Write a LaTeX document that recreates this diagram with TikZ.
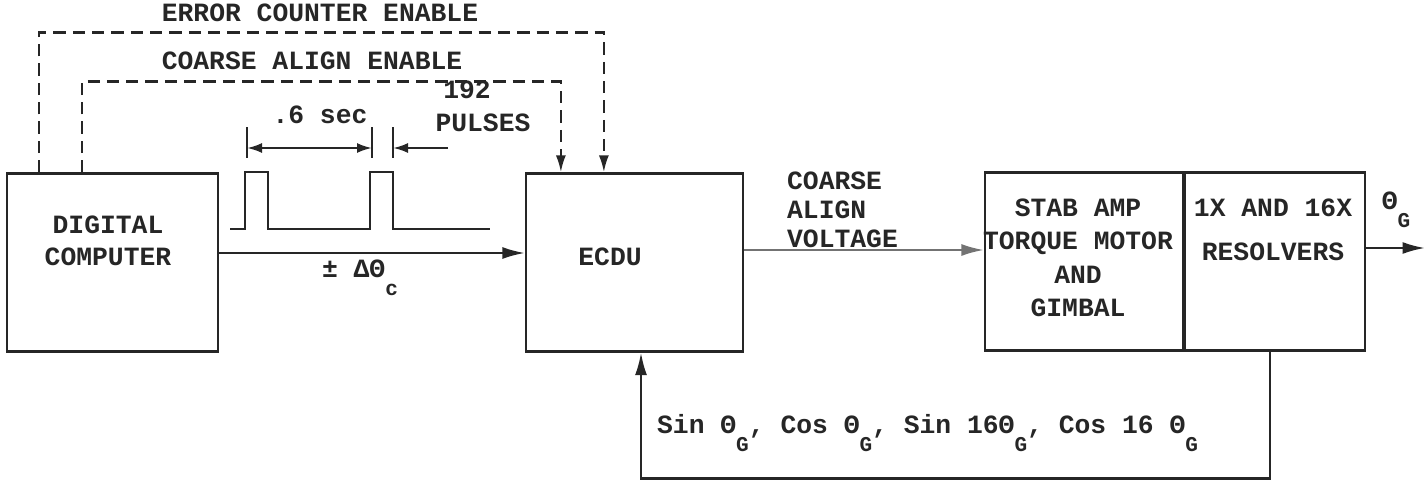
\documentclass[tikz,border=0pt]{standalone}
\usepackage{fontspec}
\setmainfont{Liberation Mono}
\usetikzlibrary{arrows.meta,positioning,calc}
\newcommand{\lowsub}[1]{\raisebox{-0.7em}{\fontsize{12}{12}\selectfont #1}}

\begin{document}
\begin{tikzpicture}[
  x=0.02cm, y=-0.02cm,
  font=\fontsize{15}{18}\selectfont\bfseries,
  line width=1.3pt, black!85,
  block/.style={rectangle, draw, minimum height=3.56cm, inner sep=0pt},
  lbl/.style={inner sep=0pt, align=center},
  arr/.style={-{Latex[length=4.5mm,width=2.4mm]}},
  darr/.style={-{Latex[length=3.4mm,width=2mm]}},
  dsh/.style={dash pattern=on 7pt off 4pt}
]
  \useasboundingbox (0,0) rectangle (1426,480);

  % blocks
  \node[block, minimum width=4.22cm] (dc) at (112.5,262.5) {};
  \node[block, minimum width=4.34cm] (ecdu) at (634.5,262.5) {};
  \node[block, minimum width=3.96cm] (stab) at (1084,261.5) {};
  \node[block, minimum width=3.6cm, right=0pt of stab] (res) {};

  \node[lbl] (dctxt) at (108,241) {DIGITAL\\COMPUTER};
  \node[lbl] (ecdutxt) at (610,257) {ECDU};
  \node[lbl, font=\fontsize{15}{19}\selectfont\bfseries] (stabtxt) at (1078,258)
    {STAB AMP\\TORQUE MOTOR\\AND\\GIMBAL};
  \node[lbl, font=\fontsize{15}{25}\selectfont\bfseries] (restxt) at (1273,230)
    {1X AND 16X\\RESOLVERS};

  % enable lines
  \node[lbl] (errtxt) at (320,13) {ERROR COUNTER ENABLE};
  \node[lbl] (coatxt) at (312,61) {COARSE ALIGN ENABLE};
  \draw[dsh, darr] ($(dc.north west)+(33,0)$) -- ++(0,-140)
    -| ($(ecdu.north west)+(79,0)$);
  \draw[dsh, darr] ($(dc.north west)+(76,0)$) -- ++(0,-91)
    -| ($(ecdu.north west)+(36,0)$);

  % pulse train
  \draw (230,229) -- (245,229) -- (245,172) -- (268,172) -- (268,229)
    -- (370,229) -- (370,172) -- (393,172) -- (393,229) -- (490,229);
  \draw (247,127) -- (247,158);
  \draw (372,127) -- (372,158);
  \draw (393,127) -- (393,158);
  \draw[{Latex[length=3mm,width=2mm]}-{Latex[length=3mm,width=2mm]}]
    (247,148) -- (372,148);
  \draw[-{Latex[length=3mm,width=2mm]}] (448,148) -- (393,148);
  \node[lbl] (sectxt) at (320,115) {.6 sec};
  \node[lbl] (numtxt) at (467,90) {192};
  \node[lbl] (pultxt) at (483,123) {PULSES};

  % signal paths
  \draw[arr] ($(dc.east)+(0,-9.5)$) -- ($(ecdu.west)+(0,-9.5)$);
  \node[lbl] (dthtxt) at (360,278) {± ΔΘ\lowsub{c}};

  \draw[arr, black!55] ($(ecdu.east)+(0,-12.5)$) -- ($(stab.west)+(0,-11.5)$);
  \node[lbl, align=left, anchor=west, font=\fontsize{15}{16.5}\selectfont\bfseries]
    (cavtxt) at (786,210) {COARSE\\ALIGN\\VOLTAGE};

  \coordinate (gout) at (1425,248);
  \draw[arr] ($(res.east)+(0,-13.5)$) -- (gout);
  \node[lbl] (thgtxt) at (1396,210) {Θ\lowsub{G}};

  % feedback
  \draw[arr] ($(res.south)+(-5,0)$) -- ++(0,127) -| ($(ecdu.south)+(6.5,0)$);
  \node[lbl, anchor=west] (fbtxt) at (656,433)
    {Sin Θ\lowsub{G}, Cos Θ\lowsub{G}, Sin 16Θ\lowsub{G}, Cos 16 Θ\lowsub{G}};
\end{tikzpicture}
\end{document}
